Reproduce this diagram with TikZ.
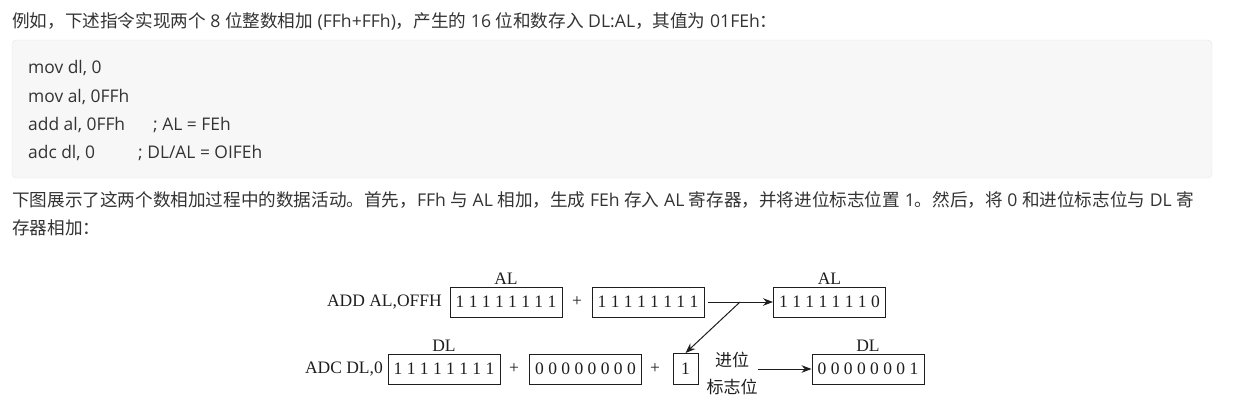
\documentclass[tikz,border=0pt]{standalone}
\usepackage{fontspec}
\setmainfont{Liberation Serif}
\newfontfamily\websans{Noto Sans CJK SC}
\newfontfamily\weblatin{Open Sans}
\newcommand\ltn[1]{{\weblatin#1}}
\usetikzlibrary{arrows.meta}
\definecolor{txtgray}{RGB}{51,51,51}
\definecolor{codefill}{RGB}{247,247,247}
\definecolor{codeline}{RGB}{228,228,228}
\definecolor{inkgray}{RGB}{30,30,30}
\def\rowa{302}
\def\rowb{369}

\begin{document}
\begin{tikzpicture}[x=1pt, y=-1pt]

                \useasboundingbox (0,0) rectangle (1239,420);
                \tikzstyle{para} = [anchor=base west, inner sep=0pt, text=txtgray, font=\websans\fontsize{17.6}{20}\selectfont]
                \tikzstyle{code} = [para, font=\weblatin\fontsize{17.4}{20}\selectfont]
                \tikzstyle{reg}  = [draw=inkgray, line width=0.95pt, minimum width=112pt, minimum height=30pt, inner sep=0pt, text=inkgray, font=\fontsize{17.5}{20}\selectfont]
                \tikzstyle{txt}  = [inner sep=0pt, text=inkgray, font=\fontsize{17.5}{20}\selectfont]
                \tikzstyle{flow} = [draw=inkgray, line width=1pt, -{Stealth[length=10pt, width=7.5pt]}]

                % text above and below the code
                \node [para](p1) at (12, 28) {例如，下述指令实现两个\ltn{ 8 }位整数相加\ltn{ (FFh+FFh)}，产生的\ltn{ 16 }位和数存入\ltn{ DL:AL}，其值为\ltn{ 01FEh}：};
                \draw [fill=codefill, draw=codeline, rounded corners=4pt] (12, 40) rectangle (1212, 178);
                \node [code](c1) at (28, 74) {mov dl, 0};
                \node [code](c2) at (28, 102) {mov al, 0FFh};
                \node [code](c3) at (28, 130) {add al, 0FFh};
                \node [code](k3) at (153, 130) {; AL = FEh};
                \node [code](c4) at (28, 158) {adc dl, 0};
                \node [code](k4) at (138, 158) {; DL/AL = OIFEh};
                \node [para](p2) at (12, 206) {下图展示了这两个数相加过程中的数据活动。首先，\ltn{FFh }与\ltn{ AL }相加，生成\ltn{ FEh }存入\ltn{ AL }寄存器，并将进位标志位置\ltn{ 1}。然后，将\ltn{ 0 }和进位标志位与\ltn{ DL }寄};
                \node [para](p3) at (12, 234) {存器相加：};

                % ADD AL,OFFH
                \node [reg, label={[txt, inner sep=2pt]above:AL}](al) at (506, \rowa) {1 1 1 1 1 1 1 1};
                \node [txt, anchor=east](add) at (442, \rowa) {ADD AL,OFFH};
                \node [txt](plusa) at (577, \rowa) {+};
                \node [reg](imma) at (648, \rowa) {1 1 1 1 1 1 1 1};
                \node [reg, label={[txt, inner sep=2pt]above:AL}](alres) at (829.5, \rowa) {1 1 1 1 1 1 1 0};
                \coordinate (split) at (740, \rowa);

                % ADC DL,0
                \node [reg, label={[txt, inner sep=2pt]above:DL}](dl) at (444, \rowb) {1 1 1 1 1 1 1 1};
                \node [txt, anchor=east](adc) at (383, \rowb) {ADC DL,0};
                \node [txt](plusb) at (514, \rowb) {+};
                \node [reg](immb) at (585.5, \rowb) {0 0 0 0 0 0 0 0};
                \node [txt](plusc) at (655, \rowb) {+};
                \node [reg, minimum width=25pt, minimum height=31pt](cf) at (685.5, \rowb) {1};
                \node [txt, font=\websans\fontsize{17}{27}\selectfont, align=center](flag) at (732, 373) {进位\\标志位};
                \node [reg, label={[txt, inner sep=2pt]above:DL}](dlres) at (868, \rowb) {0 0 0 0 0 0 0 1};

                \draw [flow, shorten <=4pt] (imma) -- (alres);
                \draw [flow] (split) -- (cf.north);
                \draw [flow] (flag.east |- dlres) -- (dlres);
\end{tikzpicture}
\end{document}
